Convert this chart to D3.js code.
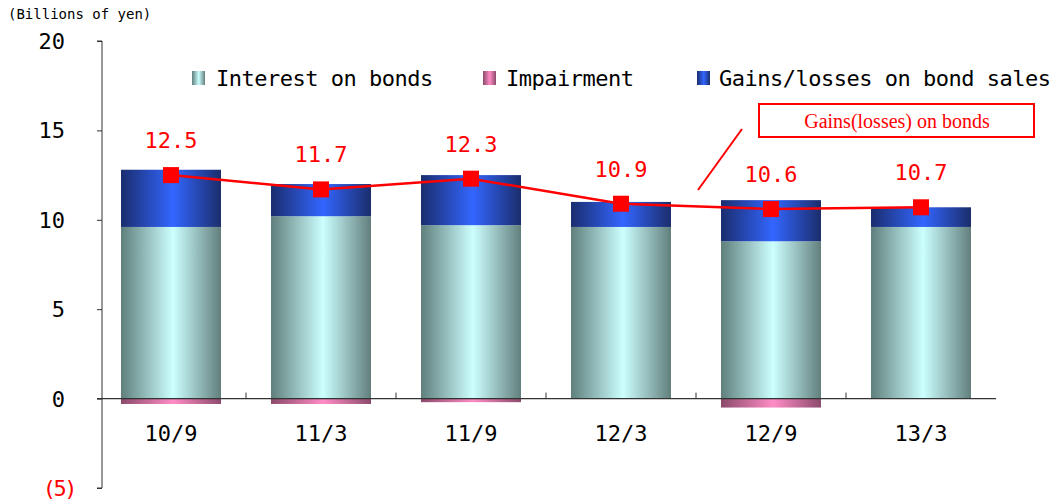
<!DOCTYPE html>
<html>
<head>
<meta charset="utf-8">
<script src="https://cdn.jsdelivr.net/npm/d3@7"></script>
<style>
  html, body { margin: 0; padding: 0; background: #fff; }
  svg { display: block; }
  .mono { font-family: "DejaVu Sans Mono", monospace; }
</style>
</head>
<body>
<svg id="chart" width="1058" height="500"></svg>
<script>
// Half-year periods and bond income components (billions of yen)
const categories = ["10/9", "11/3", "11/9", "12/3", "12/9", "13/3"];
const interestOnBonds = [9.6, 10.2, 9.7, 9.6, 8.8, 9.6];
const gainsOnSales = [3.2, 1.8, 2.8, 1.4, 2.3, 1.1];
const impairment = [-0.3, -0.3, -0.2, 0, -0.5, 0];
const netGains = [12.5, 11.7, 12.3, 10.9, 10.6, 10.7];
const yTickValues = [-5, 0, 5, 10, 15, 20];
const yTickLabels = ["(5)", "0", "5", "10", "15", "20"];
const seriesNames = ["Interest on bonds", "Impairment", "Gains/losses on bond sales"];
const lineName = "Gains(losses) on bonds";

const svg = d3.select("#chart");

const x = d3.scaleBand().domain(categories).range([96, 996]).paddingInner(1 / 3).paddingOuter(1 / 6);
const y = d3.scaleLinear().domain([-5, 20]).range([488, 41]);

// Horizontal shading used for the cylinder-like bars
const defs = svg.append("defs");
function shade(id, edgeL, mid, edgeR) {
  const g = defs.append("linearGradient").attr("id", id)
    .attr("x1", "0").attr("x2", "1").attr("y1", "0").attr("y2", "0");
  g.append("stop").attr("offset", "0%").attr("stop-color", edgeL);
  g.append("stop").attr("offset", "52%").attr("stop-color", mid);
  g.append("stop").attr("offset", "100%").attr("stop-color", edgeR);
}
shade("gInterest", "#5f7f7c", "#ccffff", "#627f7d");
shade("gImpair", "#8a4a6a", "#ff8cc6", "#8c4a6c");
shade("gGains", "#1a2d6e", "#3366ff", "#1b2d6c");

// Y axis (ticks pointing inward)
const yAxis = d3.axisLeft(y).tickValues(yTickValues).tickSize(-5).tickFormat("");
const gy = svg.append("g").attr("transform", "translate(97,0)").call(yAxis);
gy.select(".domain").attr("stroke", "#333").attr("d", `M-5,${y(20)}H0V${y(-5)}H-5`).attr("transform", "translate(5,0)");
gy.selectAll(".tick line").attr("stroke", "#333");

svg.append("g").selectAll("text").data(yTickValues).join("text")
  .attr("class", "mono")
  .attr("x", (d) => d < 0 ? 75 : 65)
  .attr("y", (d) => y(d))
  .attr("dy", "0.36em")
  .attr("text-anchor", "end")
  .attr("font-size", 22)
  .attr("letter-spacing", (d) => d < 0 ? -2.5 : 0)
  .attr("fill", (d) => d < 0 ? "#ff0000" : "#000")
  .text((d, i) => yTickLabels[i]);

svg.append("text").attr("class", "mono")
  .attr("x", 8).attr("y", 19).attr("font-size", 14).attr("fill", "#000")
  .text("(Billions of yen)");

// Bars: interest stacked under gains, impairment hanging below zero
const bw = x.bandwidth();
const barG = svg.append("g");
categories.forEach((c, i) => {
  const x0 = x(c);
  barG.append("rect").attr("x", x0).attr("width", bw)
    .attr("y", y(interestOnBonds[i])).attr("height", y(0) - y(interestOnBonds[i]))
    .attr("fill", "url(#gInterest)");
  const top = interestOnBonds[i] + gainsOnSales[i];
  barG.append("rect").attr("x", x0).attr("width", bw)
    .attr("y", y(top)).attr("height", y(interestOnBonds[i]) - y(top))
    .attr("fill", "url(#gGains)");
  if (impairment[i] < 0) {
    barG.append("rect").attr("x", x0).attr("width", bw)
      .attr("y", y(0)).attr("height", y(impairment[i]) - y(0))
      .attr("fill", "url(#gImpair)");
  }
});

// X axis along zero with boundary ticks pointing up
const step = x.step();
const xAxisG = svg.append("g");
xAxisG.append("line").attr("x1", 97).attr("x2", 996).attr("y1", y(0)).attr("y2", y(0))
  .attr("stroke", "#333").attr("stroke-width", 1.2);
xAxisG.selectAll("line.tk").data(categories.slice(1)).join("line").attr("class", "tk")
  .attr("x1", (d) => x(d) - (step - bw) / 2).attr("x2", (d) => x(d) - (step - bw) / 2)
  .attr("y1", y(0)).attr("y2", y(0) - 6).attr("stroke", "#333");
xAxisG.selectAll("text").data(categories).join("text")
  .attr("class", "mono")
  .attr("x", (d) => x(d) + bw / 2).attr("y", 433).attr("dy", "0.36em")
  .attr("text-anchor", "middle").attr("font-size", 22).attr("fill", "#000")
  .text((d) => d);

// Net gains line with square markers and value labels
const cx = (i) => x(categories[i]) + bw / 2;
const line = d3.line().x((d, i) => cx(i)).y((d) => y(d));
svg.append("path").datum(netGains).attr("d", line)
  .attr("fill", "none").attr("stroke", "#ff0000").attr("stroke-width", 2.5);
svg.append("g").selectAll("rect").data(netGains).join("rect")
  .attr("x", (d, i) => cx(i) - 8).attr("y", (d) => y(d) - 8)
  .attr("width", 16).attr("height", 16).attr("fill", "#ff0000");
svg.append("g").selectAll("text").data(netGains).join("text")
  .attr("class", "mono")
  .attr("x", (d, i) => cx(i)).attr("y", (d) => y(d) - 35).attr("dy", "0.36em")
  .attr("text-anchor", "middle").attr("font-size", 22).attr("fill", "#ff0000")
  .text((d) => d.toFixed(1));

// Legend
const legendItems = [
  { name: seriesNames[0], fill: "url(#gInterest)", sx: 192, tx: 216 },
  { name: seriesNames[1], fill: "url(#gImpair)", sx: 483, tx: 506 },
  { name: seriesNames[2], fill: "url(#gGains)", sx: 697, tx: 719 }
];
const lg = svg.append("g");
legendItems.forEach((it) => {
  lg.append("rect").attr("x", it.sx).attr("y", 71).attr("width", 13).attr("height", 14).attr("fill", it.fill);
  lg.append("text").attr("class", "mono")
    .attr("x", it.tx).attr("y", 78).attr("dy", "0.36em")
    .attr("font-size", 22).attr("letter-spacing", -0.5).attr("fill", "#000")
    .text(it.name);
});

// Callout for the line series
svg.append("rect").attr("x", 759).attr("y", 104).attr("width", 275).attr("height", 33)
  .attr("fill", "#fff").attr("stroke", "#ff0000").attr("stroke-width", 2);
svg.append("text").attr("x", 897).attr("y", 121).attr("dy", "0.35em")
  .attr("text-anchor", "middle").attr("font-family", "'Liberation Serif', serif")
  .attr("font-size", 20).attr("fill", "#ff0000").text(lineName);
svg.append("line").attr("x1", 742).attr("y1", 129).attr("x2", 698).attr("y2", 190)
  .attr("stroke", "#ff0000").attr("stroke-width", 2);
</script>
</body>
</html>
